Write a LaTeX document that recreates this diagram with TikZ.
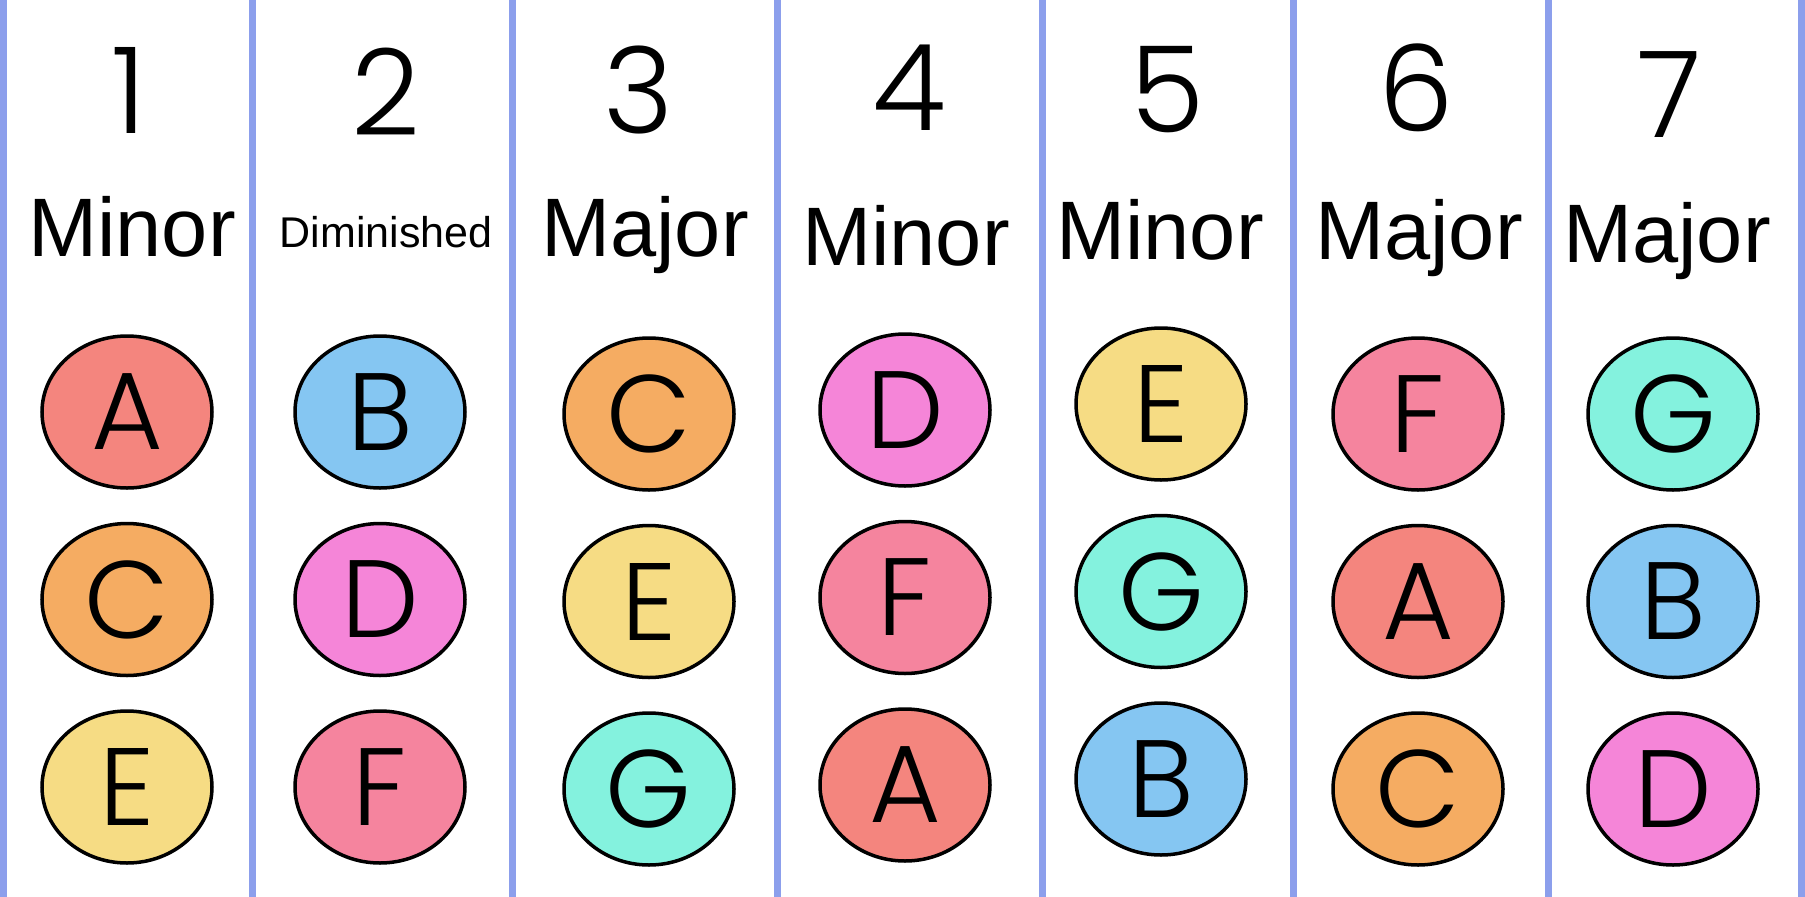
\documentclass[tikz,border=0pt]{standalone}
\usepackage{fontspec}
\setmainfont{Liberation Sans}
\IfFontExistsTF{Poppins Light}{\newfontfamily\manoFont{Poppins Light}}{\newfontfamily\manoFont{Poppins}}
\usetikzlibrary{positioning,shapes.geometric}
\definecolor{notaA}{HTML}{F4857E}
\definecolor{notaB}{HTML}{85C6F2}
\definecolor{notaC}{HTML}{F5AC62}
\definecolor{notaD}{HTML}{F585D8}
\definecolor{notaE}{HTML}{F6DC84}
\definecolor{notaF}{HTML}{F5849E}
\definecolor{notaG}{HTML}{84F2DE}
\definecolor{lineaAzul}{HTML}{8C9FEC}
\tikzset{
  nota/.style={ellipse, draw=black, line width=3.5pt, minimum width=170pt, minimum height=152pt, inner sep=0pt, font=\manoFont\fontsize{110}{110}\selectfont, fill=#1},
  grado/.style={font=\manoFont\fontsize{120}{120}\selectfont, inner sep=0pt},
  calidad/.style={font=\fontsize{83}{83}\selectfont, inner sep=0pt, anchor=base},
  separador/.style={draw=lineaAzul, line width=7pt},
}
\begin{document}
\begin{tikzpicture}[x=1pt, y=-1pt, node distance=32pt]
\useasboundingbox (0,0) rectangle (1805,897);
% separadores
\foreach \xs in {3.5,252,512,777,1042,1293,1548,1801}
  \draw[separador] (\xs,0) -- (\xs,897);
% columna 1
\node[grado] (g1) at (129,90) {1};
\node[calidad] (c1) at (132,256) {Minor};
\node[nota=notaA] (n1a) at (127,412) {A};
\node[nota=notaC, below=of n1a] (n1b) {C};
\node[nota=notaE, below=of n1b] (n1c) {E};
% columna 2
\node[grado] (g2) at (386,92) {2};
\node[calidad, font=\fontsize{43}{43}\selectfont] (c2) at (386,247) {Diminished};
\node[nota=notaB] (n2a) at (380,412) {B};
\node[nota=notaD, below=of n2a] (n2b) {D};
\node[nota=notaF, below=of n2b] (n2c) {F};
% columna 3
\node[grado] (g3) at (639,90) {3};
\node[calidad] (c3) at (645,256) {Major};
\node[nota=notaC] (n3a) at (649,414) {C};
\node[nota=notaE, below=of n3a] (n3b) {E};
\node[nota=notaG, below=of n3b] (n3c) {G};
% columna 4
\node[grado] (g4) at (909,88) {4};
\node[calidad] (c4) at (906,265) {Minor};
\node[nota=notaD] (n4a) at (905,410) {D};
\node[nota=notaF, below=of n4a] (n4b) {F};
\node[nota=notaA, below=of n4b] (n4c) {A};
% columna 5
\node[grado] (g5) at (1168,90) {5};
\node[calidad] (c5) at (1160,259) {Minor};
\node[nota=notaE] (n5a) at (1161,404) {E};
\node[nota=notaG, below=of n5a] (n5b) {G};
\node[nota=notaB, below=of n5b] (n5c) {B};
% columna 6
\node[grado] (g6) at (1416,88) {6};
\node[calidad] (c6) at (1419,259) {Major};
\node[nota=notaF] (n6a) at (1418,414) {F};
\node[nota=notaA, below=of n6a] (n6b) {A};
\node[nota=notaC, below=of n6b] (n6c) {C};
% columna 7
\node[grado] (g7) at (1669,95) {7};
\node[calidad] (c7) at (1667,262) {Major};
\node[nota=notaG] (n7a) at (1673,414) {G};
\node[nota=notaB, below=of n7a] (n7b) {B};
\node[nota=notaD, below=of n7b] (n7c) {D};
\end{tikzpicture}
\end{document}
